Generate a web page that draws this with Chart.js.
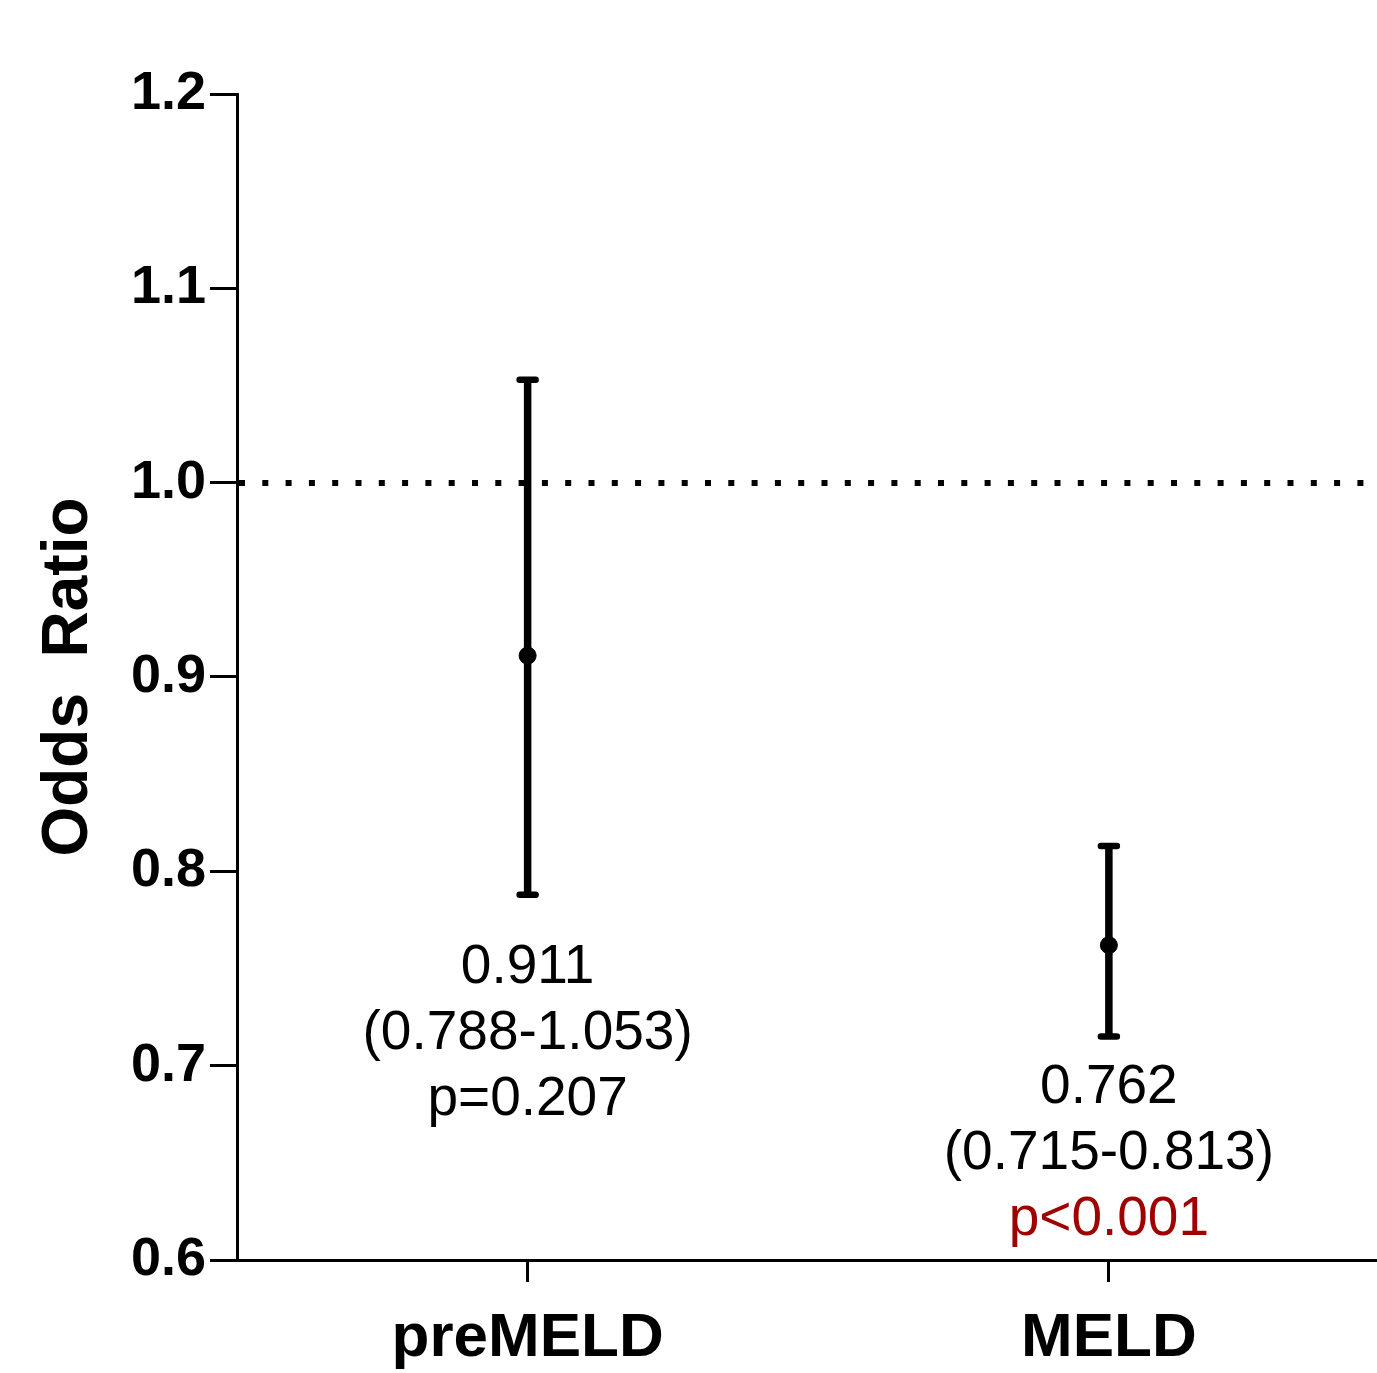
<!DOCTYPE html>
<html>
<head>
<meta charset="utf-8">
<script src="https://cdn.jsdelivr.net/npm/chart.js@4.4.1/dist/chart.umd.min.js"></script>
<style>
  html, body { margin: 0; padding: 0; background: #fff; overflow: hidden; }
  #wrap { position: relative; width: 1409px; height: 1373px; }
</style>
</head>
<body>
<div id="wrap"><canvas id="chart"></canvas></div>
<script>
// valores
const categories = ['preMELD', 'MELD'];
const oddsRatio = [0.911, 0.762];
const ciLower = [0.788, 0.715];
const ciUpper = [1.053, 0.813];
const pValues = ['p=0.207', 'p<0.001'];
const yTicks = [0.6, 0.7, 0.8, 0.9, 1.0, 1.1, 1.2];

const FONT = '"Liberation Sans", Arial, sans-serif';

// barras de error, línea de referencia y textos
const forestPlugin = {
    id: 'forest',
    beforeDatasetsDraw(chart) {
        const { ctx, chartArea, scales: { y } } = chart;
        const yRef = Math.round(y.getPixelForValue(1.0));
        ctx.save();
        ctx.strokeStyle = '#000';
        ctx.lineWidth = 6;
        ctx.setLineDash([6, 17.3]);
        ctx.beginPath();
        ctx.moveTo(chartArea.left + 2, yRef);
        ctx.lineTo(chartArea.right + 40, yRef);
        ctx.stroke();
        ctx.restore();
    },
    afterDatasetsDraw(chart) {
        const { ctx, scales: { x, y } } = chart;
        const offsets = [73, 51];
        ctx.save();
        categories.forEach((c, i) => {
            const px = x.getPixelForValue(i);
            const top = y.getPixelForValue(ciUpper[i]);
            const bot = y.getPixelForValue(ciLower[i]);
            ctx.strokeStyle = '#000';
            ctx.lineWidth = 7.5;
            ctx.lineCap = 'butt';
            ctx.beginPath();
            ctx.moveTo(px, top);
            ctx.lineTo(px, bot);
            ctx.stroke();
            ctx.lineWidth = 6.5;
            ctx.lineCap = 'round';
            ctx.beginPath();
            ctx.moveTo(px - 8, top);
            ctx.lineTo(px + 8, top);
            ctx.moveTo(px - 8, bot);
            ctx.lineTo(px + 8, bot);
            ctx.stroke();

            ctx.font = '55px ' + FONT;
            ctx.textAlign = 'center';
            ctx.textBaseline = 'middle';
            const y0 = bot + offsets[i];
            ctx.fillStyle = '#000';
            ctx.fillText(oddsRatio[i].toFixed(3), px, y0);
            ctx.fillText('(' + ciLower[i].toFixed(3) + '-' + ciUpper[i].toFixed(3) + ')', px, y0 + 66);
            ctx.fillStyle = pValues[i].includes('<') ? '#a00000' : '#000';
            ctx.fillText(pValues[i], px, y0 + 132);
        });
        ctx.restore();
    }
};

new Chart(document.getElementById('chart'), {
    type: 'line',
    data: {
        labels: categories,
        datasets: [{
            data: oddsRatio,
            showLine: false,
            pointRadius: 8.5,
            pointHoverRadius: 8.5,
            pointBackgroundColor: '#000',
            pointBorderColor: '#000',
            borderColor: '#000'
        }]
    },
    options: {
        responsive: true,
        maintainAspectRatio: false,
        animation: false,
        layout: { padding: { top: 94, right: 1, left: 0, bottom: 0 } },
        plugins: {
            legend: { display: false },
            tooltip: { enabled: false }
        },
        scales: {
            x: {
                type: 'category',
                offset: true,
                grid: {
                    display: true,
                    drawOnChartArea: false,
                    drawTicks: true,
                    tickLength: 22,
                    tickWidth: 3,
                    tickColor: '#000',
                    offset: false
                },
                border: { display: true, color: '#000', width: 3 },
                ticks: {
                    color: '#000',
                    padding: 20,
                    font: { family: FONT, size: 62, weight: 'bold' }
                },
                afterFit: (scale) => { scale.height = 113; }
            },
            y: {
                min: 0.6,
                max: 1.2,
                afterBuildTicks: (scale) => { scale.ticks = yTicks.map(v => ({ value: v })); },
                grid: {
                    display: true,
                    drawOnChartArea: false,
                    drawTicks: true,
                    tickLength: 27,
                    tickWidth: 3,
                    tickColor: '#000'
                },
                border: { display: true, color: '#000', width: 3 },
                ticks: {
                    color: '#000',
                    padding: 4,
                    font: { family: FONT, size: 54, weight: 'bold' },
                    callback: (v) => Number(v).toFixed(1)
                },
                title: {
                    display: true,
                    text: 'Odds  Ratio',
                    color: '#000',
                    padding: { top: 31, bottom: 0 },
                    font: { family: FONT, size: 64, weight: 'bold' }
                },
                afterFit: (scale) => { scale.width = 237; }
            }
        }
    },
    plugins: [forestPlugin]
});
</script>
</body>
</html>
